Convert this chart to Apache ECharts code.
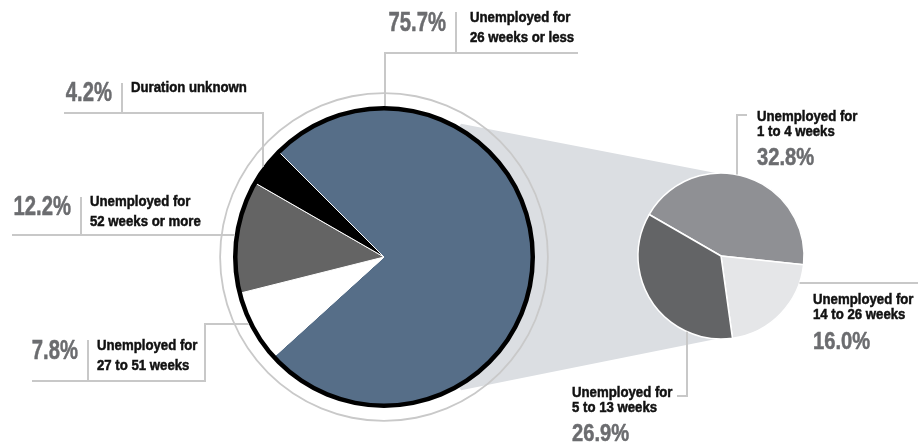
<!DOCTYPE html>
<html>
<head>
<meta charset="utf-8">
<script src="https://cdn.jsdelivr.net/npm/echarts@6/dist/echarts.min.js"></script>
<style>
  html, body { margin: 0; padding: 0; background: #fff; }
  #chart { width: 918px; height: 445px; }
</style>
</head>
<body>
<div id="chart"></div>
<script>
// Unemployment by duration: share of all unemployed, with the short-term part broken out
const mainLabels = [
  ['Unemployed for', '26 weeks or less'],
  ['Unemployed for', '27 to 51 weeks'],
  ['Unemployed for', '52 weeks or more'],
  ['Duration unknown']
];
const mainValues = [75.7, 7.8, 12.2, 4.2];

const subLabels = [
  ['Unemployed for', '1 to 4 weeks'],
  ['Unemployed for', '14 to 26 weeks'],
  ['Unemployed for', '5 to 13 weeks']
];
const subValues = [32.8, 16.0, 26.9];

// styling
const mainColors = ['#566e88', '#ffffff', '#646464', '#000000'];
const subColors = ['#8f9094', '#e5e6e8', '#636466'];
const FONT = '"Liberation Sans", Arial, sans-serif';
const PCT = '#6b6c6f';
const INK = '#111111';
const RULE = '#c8c8c8';
// condensed look: horizontal squeeze applied to the text
const SQ_TEXT = 0.88, SQ_PCT_L = 0.75, SQ_PCT_R = 0.84;

// layout
const MAIN = { cx: 384, cy: 257, r: 151 };
const SUB = { cx: 721, cy: 256, r: 83 };

function edgeYTop(c, x) { return c.cy - Math.sqrt(c.r * c.r - (c.cx - x) * (c.cx - x)); }
function edgeYBottom(c, x) { return c.cy + Math.sqrt(c.r * c.r - (c.cx - x) * (c.cx - x)); }
function edgeXLeft(c, y) { return c.cx - Math.sqrt(c.r * c.r - (c.cy - y) * (c.cy - y)); }
function edgeXRight(c, y) { return c.cx + Math.sqrt(c.r * c.r - (c.cy - y) * (c.cy - y)); }
function pct(v) { return v.toFixed(1) + '%'; }

const graphics = [];
function rule(points) {
  graphics.push({ type: 'polyline', z: 100, silent: true,
    shape: { points: points },
    style: { stroke: RULE, lineWidth: 2, fill: null } });
}
function label(str, x, baseline, size, color, squeeze, align) {
  graphics.push({ type: 'text', z: 100, silent: true,
    x: x, y: baseline - 0.35 * size, scaleX: squeeze, scaleY: 1,
    style: { text: str, font: 'bold ' + size + 'px ' + FONT, fill: color,
      stroke: color, lineWidth: 0.5,
      align: align || 'left', verticalAlign: 'middle' } });
}

// connector wedge from the big pie to the breakdown pie
(function () {
  const a1 = 30 * Math.PI / 180, a2 = 150 * Math.PI / 180, rr = MAIN.r + 3;
  graphics.push({ type: 'polygon', z: 0, silent: true,
    shape: { points: [
      [MAIN.cx, MAIN.cy],
      [MAIN.cx + rr * Math.sin(a1), MAIN.cy - rr * Math.cos(a1)],
      [SUB.cx, SUB.cy - SUB.r + 1],
      [SUB.cx, SUB.cy + SUB.r - 1],
      [MAIN.cx + rr * Math.sin(a2), MAIN.cy - rr * Math.cos(a2)]
    ] },
    style: { fill: '#dbdee2' } });
})();

// 26 weeks or less
label(pct(mainValues[0]), 446, 33, 27, PCT, SQ_PCT_L, 'right');
label(mainLabels[0][0], 470, 23, 15, INK, SQ_TEXT);
label(mainLabels[0][1], 470, 43, 15, INK, SQ_TEXT);
rule([[456, 12], [456, 53]]);
rule([[578, 53], [385, 53], [385, edgeYTop(MAIN, 385)]]);

// duration unknown
label(pct(mainValues[3]), 112, 103, 27, PCT, SQ_PCT_L, 'right');
label(mainLabels[3][0], 131, 93, 15, INK, SQ_TEXT);
rule([[122, 83], [122, 113]]);
rule([[64, 113], [263, 113], [263, edgeYTop(MAIN, 263)]]);

// 52 weeks or more
label(pct(mainValues[2]), 71, 217, 27, PCT, SQ_PCT_L, 'right');
label(mainLabels[2][0], 90, 207, 15, INK, SQ_TEXT);
label(mainLabels[2][1], 90, 227, 15, INK, SQ_TEXT);
rule([[81, 197], [81, 235]]);
rule([[12, 235], [edgeXLeft(MAIN, 235), 235]]);

// 27 to 51 weeks
label(pct(mainValues[1]), 78, 361, 27, PCT, SQ_PCT_L, 'right');
label(mainLabels[1][0], 97, 351, 15, INK, SQ_TEXT);
label(mainLabels[1][1], 97, 371, 15, INK, SQ_TEXT);
rule([[88, 340], [88, 381]]);
rule([[32, 381], [205, 381], [205, 324], [edgeXLeft(MAIN, 324), 324]]);

// 1 to 4 weeks
label(subLabels[0][0], 757, 122, 15, INK, SQ_TEXT);
label(subLabels[0][1], 757, 137, 15, INK, SQ_TEXT);
label(pct(subValues[0]), 757, 167, 24, PCT, SQ_PCT_R);
rule([[747, 115], [737, 115], [737, edgeYTop(SUB, 737)]]);

// 14 to 26 weeks
label(subLabels[1][0], 813, 305, 15, INK, SQ_TEXT);
label(subLabels[1][1], 813, 320, 15, INK, SQ_TEXT);
label(pct(subValues[1]), 813, 351, 24, PCT, SQ_PCT_R);
rule([[edgeXRight(SUB, 283), 283], [918, 283]]);

// 5 to 13 weeks
label(subLabels[2][0], 572, 398, 15, INK, SQ_TEXT);
label(subLabels[2][1], 572, 413, 15, INK, SQ_TEXT);
label(pct(subValues[2]), 572, 443, 24, PCT, SQ_PCT_R);
rule([[687, edgeYBottom(SUB, 687)], [687, 396], [677, 396]]);

const ringStyle = { show: false };
const chart = echarts.init(document.getElementById('chart'), null, { renderer: 'canvas' });
chart.setOption({
  animation: false,
  backgroundColor: '#ffffff',
  graphic: { elements: graphics },
  series: [
    {
      type: 'pie', silent: true, z: 2,
      center: [MAIN.cx, MAIN.cy], radius: [0, MAIN.r - 2],
      startAngle: 135, clockwise: true,
      label: { show: false }, labelLine: { show: false },
      itemStyle: { borderColor: '#ffffff', borderWidth: 1 },
      data: mainValues.map((v, i) => ({ value: v, name: mainLabels[i].join(' '),
        itemStyle: { color: mainColors[i] } }))
    },
    {
      // black rim
      type: 'pie', silent: true, z: 3,
      center: [MAIN.cx, MAIN.cy], radius: [MAIN.r - 4.5, MAIN.r],
      label: ringStyle, labelLine: ringStyle,
      itemStyle: { color: '#000000' },
      data: [{ value: 1, name: 'rim' }]
    },
    {
      // outer thin ring
      type: 'pie', silent: true, z: 3,
      center: [MAIN.cx, MAIN.cy], radius: [MAIN.r + 12, MAIN.r + 13.8],
      label: ringStyle, labelLine: ringStyle,
      itemStyle: { color: '#c9c9c9' },
      data: [{ value: 1, name: 'ring' }]
    },
    {
      type: 'pie', silent: true, z: 2,
      center: [SUB.cx, SUB.cy], radius: [0, SUB.r],
      startAngle: 150, clockwise: true,
      label: { show: false }, labelLine: { show: false },
      itemStyle: { borderColor: '#ffffff', borderWidth: 1.5 },
      data: subValues.map((v, i) => ({ value: v, name: subLabels[i].join(' '),
        itemStyle: { color: subColors[i] } }))
    }
  ]
});
</script>
</body>
</html>
